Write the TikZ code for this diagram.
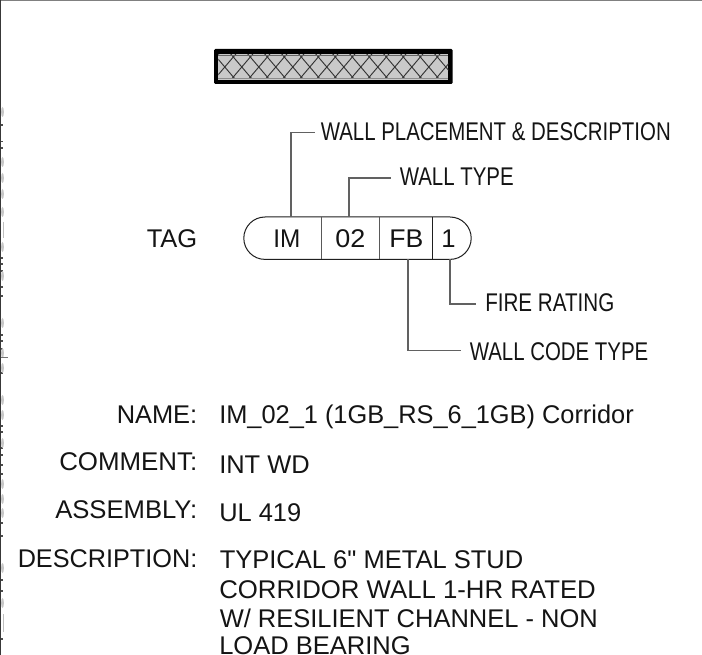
\documentclass[tikz,border=0pt]{standalone}
\usepackage{graphicx}
\usepackage{fontspec}
\setmainfont{Liberation Sans}[Ligatures=TeXOff]
\newcommand{\fitpx}[2]{\resizebox{\dimexpr #1pt*3/4\relax}{\height}{#2}}
\tikzset{
 px/.style={x=0.75pt,y=-0.75pt},
 leader/.style={draw=black!62,line width=1pt},
 tagline/.style={draw=black!88,line width=0.75pt},
 divider/.style={draw=black!65,line width=0.9pt},
 hatchline/.style={draw=black!80,line width=0.7pt},
 txt/.style={inner sep=0,font=\fontsize{19.2}{19.2}\selectfont,text=black!92},
 lab/.style={txt,anchor=base west},
 cell/.style={txt,anchor=base west},
 field/.style={txt,anchor=base west},
 val/.style={txt,anchor=base west},
 ticka/.style={draw=black!70,line width=0.8pt},
 blob/.style={fill=black!22},
}
\begin{document}
\begin{tikzpicture}[px]
\useasboundingbox (0,0) rectangle (702,655);
\fill[white] (0,0) rectangle (702,655);
% left edge marks
\foreach \y in {125,141.7,148,258,264,271,287,296,335,341,349,373,426,432,448,455,465,474,523,536,580,591,639}
  \draw[ticka] (0,\y) -- (3,\y);
\foreach \y in {112,162,178,194,212,247,276,323,353,368,400,415,443,484,499,513,568,603}
  \fill[blob] (2.5,\y) ellipse[x radius=1.4,y radius=5];
\draw[black!25,line width=1pt] (3.7,221.7) -- (3.7,238.3);
\draw[black!25,line width=1pt] (3.7,614) -- (3.7,632);
\draw[black!55,line width=0.75pt] (0,357.3) -- (8,357.3);
\draw[black!50,line width=0.75pt] (0,0.5) -- (702,0.5);
\draw[black!78,line width=1pt] (0.6,0) -- (0.6,655);
% bar
\fill[black,rounded corners=1pt] (214,49) rectangle (452.7,84);
\fill[black!21] (218.3,54) rectangle (448.3,80);
\begin{scope}
\clip (218.3,55) rectangle (448.3,79);
\foreach \i in {-2,...,14}{
 \draw[hatchline] (224.8+\i*17,47) -- ++(34,40);
 \draw[hatchline] (258.8+\i*17,47) -- ++(-34,40);
}
\end{scope}
\draw[black!60,line width=0.6pt] (218.3,55) -- (448.3,55);
\draw[black!45,line width=0.6pt] (218.3,78.8) -- (448.3,78.8);
% tag
\path[tagline] (265,217) -- (450,217) arc[start angle=-90,end angle=90,radius=21.2] -- (265,259.4) arc[start angle=90,end angle=270,radius=21.2] -- cycle;
\coordinate (d1t) at (321.7,217); \coordinate (d1b) at (321.7,259.4);
\coordinate (d2t) at (379.3,217); \coordinate (d2b) at (379.3,259.4);
\coordinate (d3t) at (432.3,217); \coordinate (d3b) at (432.3,259.4);
\draw[divider] (d1t)--(d1b) (d2t)--(d2b);
\draw[tagline] (d3t)--(d3b);
\node[cell] (im) at (273,247.7) {\fitpx{27}{IM}};
\node[cell] (n02) at (335,247.7) {\fitpx{30}{02}};
\node[cell] (fb) at (389,247.7) {\fitpx{34}{FB}};
\node[cell] (one) at (441,247.7) {1};
\node[field] (tag) at (146.5,247.5) {\fitpx{50.5}{TAG}};
% leaders
\coordinate (a1) at (291,217); \coordinate (a2) at (291,132.7); \coordinate (a3) at (315,132.7);
\draw[leader] (a1)--(a2)--(a3);
\coordinate (b1) at (349,217); \coordinate (b2) at (349,178); \coordinate (b3) at (391,178);
\draw[leader] (b1)--(b2)--(b3);
\coordinate (c1) at (408,259.4); \coordinate (c2) at (408,350.7); \coordinate (c3) at (460.7,350.7);
\draw[leader] (c1)--(c2)--(c3);
\coordinate (e1) at (450,259.4); \coordinate (e2) at (450,304); \coordinate (e3) at (476,304);
\draw[leader] (e1)--(e2)--(e3);
\node[lab] (wpd) at (320.5,141) {\fitpx{350}{WALL PLACEMENT \& DESCRIPTION}};
\node[lab] (wt) at (399.5,186) {\fitpx{114}{WALL TYPE}};
\node[lab] (fr) at (485,311.5) {\fitpx{129}{FIRE RATING}};
\node[lab] (wct) at (469.5,360) {\fitpx{178.5}{WALL CODE TYPE}};
% fields
\node[field] (f1) at (116.5,423) {\fitpx{80.5}{NAME:}};
\node[val] (v1) at (219,423) {\fitpx{414.5}{IM\_02\_1 (1GB\_RS\_6\_1GB) Corridor}};
\node[field] (f2) at (59,470.5) {\fitpx{138}{COMMENT:}};
\node[val] (v2) at (219,473.5) {\fitpx{90.5}{INT WD}};
\node[field] (f3) at (55,518.5) {\fitpx{142}{ASSEMBLY:}};
\node[val] (v3) at (219,521.5) {\fitpx{82}{UL 419}};
\node[field] (f4) at (17.5,567) {\fitpx{179.5}{DESCRIPTION:}};
\node[val] (v4a) at (219.5,568.5) {\fitpx{303.5}{TYPICAL 6" METAL STUD}};
\node[val] (v4b) at (219,598) {\fitpx{376.5}{CORRIDOR WALL 1-HR RATED}};
\node[val] (v4c) at (219.5,627) {\fitpx{378}{W/ RESILIENT CHANNEL - NON}};
\node[val] (v4d) at (219,654) {\fitpx{191.5}{LOAD BEARING}};
\end{tikzpicture}
\end{document}
